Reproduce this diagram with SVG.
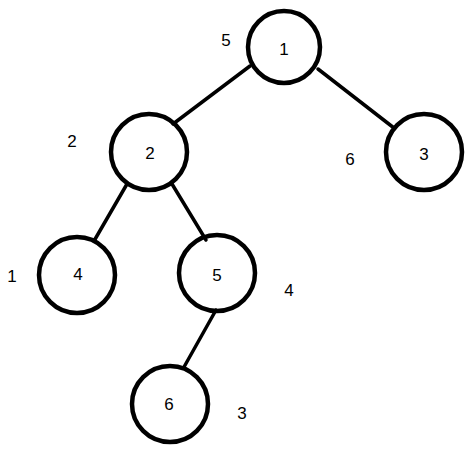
<svg xmlns="http://www.w3.org/2000/svg" width="472" height="450" viewBox="0 0 472 450">
<style>
.n{fill:none;stroke:#000;stroke-width:4.5}
.e{stroke:#000;stroke-width:3.5;stroke-linecap:round}
text{font-family:"Liberation Sans",Arial,sans-serif;font-size:17px;fill:#000;text-anchor:middle;dominant-baseline:central}
</style>
<rect width="472" height="450" fill="#fff"/>
<g id="connectors">
<line class="e" x1="250" y1="66" x2="173" y2="124"/>
<line class="e" x1="318" y1="69" x2="394" y2="128"/>
<line class="e" x1="127" y1="184" x2="94" y2="241"/>
<line class="e" x1="172" y1="184" x2="206" y2="240"/>
<line class="e" x1="216" y1="310" x2="184" y2="367"/>
</g>
<g id="node1"><circle class="n" cx="284" cy="47" r="36"/><text x="284" y="49">1</text></g>
<g id="node2"><circle class="n" cx="149" cy="152" r="38"/><text x="150" y="153">2</text></g>
<g id="node3"><circle class="n" cx="424" cy="152" r="38"/><text x="424" y="154">3</text></g>
<g id="node4"><circle class="n" cx="77" cy="275" r="38"/><text x="78" y="274">4</text></g>
<g id="node5"><circle class="n" cx="217" cy="273" r="38"/><text x="217" y="275">5</text></g>
<g id="node6"><circle class="n" cx="170" cy="404" r="38"/><text x="169" y="404">6</text></g>
<g id="labels">
<text x="226" y="40">5</text>
<text x="72" y="141">2</text>
<text x="350" y="159">6</text>
<text x="12" y="276">1</text>
<text x="289" y="290">4</text>
<text x="242" y="413">3</text>
</g>
</svg>
